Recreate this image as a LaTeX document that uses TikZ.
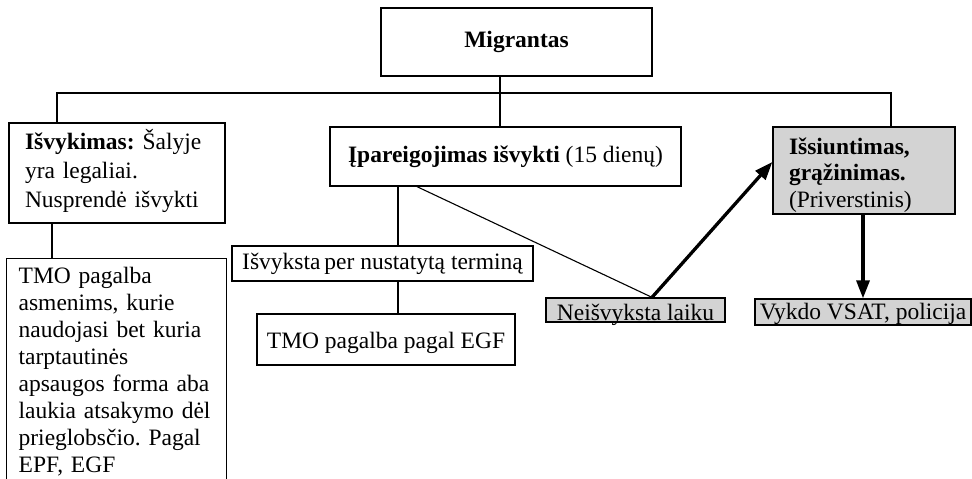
\documentclass[tikz,border=0pt]{standalone}
\usepackage{fontspec}
\setmainfont{Liberation Serif}
\usetikzlibrary{arrows.meta}
\definecolor{boxgrey}{HTML}{D3D3D3}
\newcommand{\tstr}[1]{\rule{0pt}{#1}}
\newcommand{\bstr}[1]{\rule[-#1]{0pt}{#1}}
\frenchspacing
\tikzset{
  box/.style={draw=black, line width=1.3pt, inner sep=0pt, font=\fontsize{23.5}{28}\selectfont\frenchspacing},
  greybox/.style={box, fill=boxgrey},
  conn/.style={line width=1.1pt},
  bigarrow/.style={line width=3.3pt, -{Triangle[length=18pt,width=13pt]}},
}
\begin{document}
\begin{tikzpicture}[x=1pt,y=-1pt]
\useasboundingbox (0,0) rectangle (972,479);
% nodes
\node[box, minimum width=271pt, minimum height=68pt, text height=16pt, text depth=5pt] (mig) at (516.5,42) {\textbf{Migrantas}};
\node[box, minimum width=216pt, minimum height=100pt, align=left, text width=184pt,
      font=\fontsize{23.5}{29}\selectfont\frenchspacing] (isv) at (117,173)
  {\tstr{22pt}\textbf{Išvykimas:} Šalyje\\yra legaliai.\\Nusprendė išvykti\bstr{12pt}};
\node[box, minimum width=351pt, minimum height=59pt] (ipa) at (505.5,156.5)
  {\textbf{Įpareigojimas išvykti} (15 dienų)};
\node[greybox, minimum width=182pt, minimum height=87pt, align=left, text width=150pt,
      font=\fontsize{23.5}{26.5}\selectfont\frenchspacing] (issi) at (864,170.5)
  {\tstr{26pt}\textbf{Išsiuntimas,}\\\textbf{grąžinimas.}\\(Priverstinis)\bstr{6pt}};
\node[box, anchor=north west, minimum width=220pt, align=left, text width=196pt,
      font=\fontsize{23.5}{27}\selectfont\frenchspacing] (tmo1) at (6,258)
  {\tstr{25pt}TMO pagalba\\asmenims, kurie\\naudojasi bet kuria\\tarptautinės\\apsaugos forma aba\\laukia atsakymo dėl\\prieglobsčio. Pagal\\EPF, EGF\bstr{20pt}};
\node[box, minimum width=301pt, minimum height=35pt, text height=17pt, text depth=5pt] (isvyk) at (382.5,263.5)
  {Išvyksta\hspace{-2pt} per nustatytą terminą};
\node[box, minimum width=258pt, minimum height=51pt, text height=22pt, text depth=5pt] (tmo2) at (386,339.5)
  {TMO pagalba pagal EGF};
\node[greybox, minimum width=179pt, minimum height=24pt, text height=20pt, text depth=0pt] (neis) at (635.5,310)
  {Neišvyksta laiku};
\node[greybox, minimum width=216pt, minimum height=26pt, text height=17pt, text depth=3pt] (vykdo) at (863,312)
  {Vykdo VSAT, policija};
% bus
\coordinate (busL) at (57,93);
\coordinate (busM) at (500,93);
\coordinate (busR) at (891,93);
\coordinate (lx) at (52,0);
\draw[conn] (isv.north -| busL) -- (busL) -- (busR) -- (issi.north -| busR);
\draw[conn] (mig.south -| busM) -- (ipa.north -| busM);
\draw[conn] (isv.south -| lx) -- (tmo1.north -| lx);
% middle branch
\draw[conn] ([xshift=-107.5pt]ipa.south) coordinate (v1) -- (v1 |- isvyk.north);
\draw[conn] (isvyk.south -| v1) -- (tmo2.north -| v1);
\draw[conn] ([xshift=-88.5pt]ipa.south) -- ([xshift=16.5pt]neis.north);
% arrows
\draw[bigarrow] ([xshift=16.5pt]neis.north) -- ([yshift=8.5pt]issi.west);
\draw[bigarrow] (issi.south -| vykdo.north) -- (vykdo.north);
\end{tikzpicture}
\end{document}
